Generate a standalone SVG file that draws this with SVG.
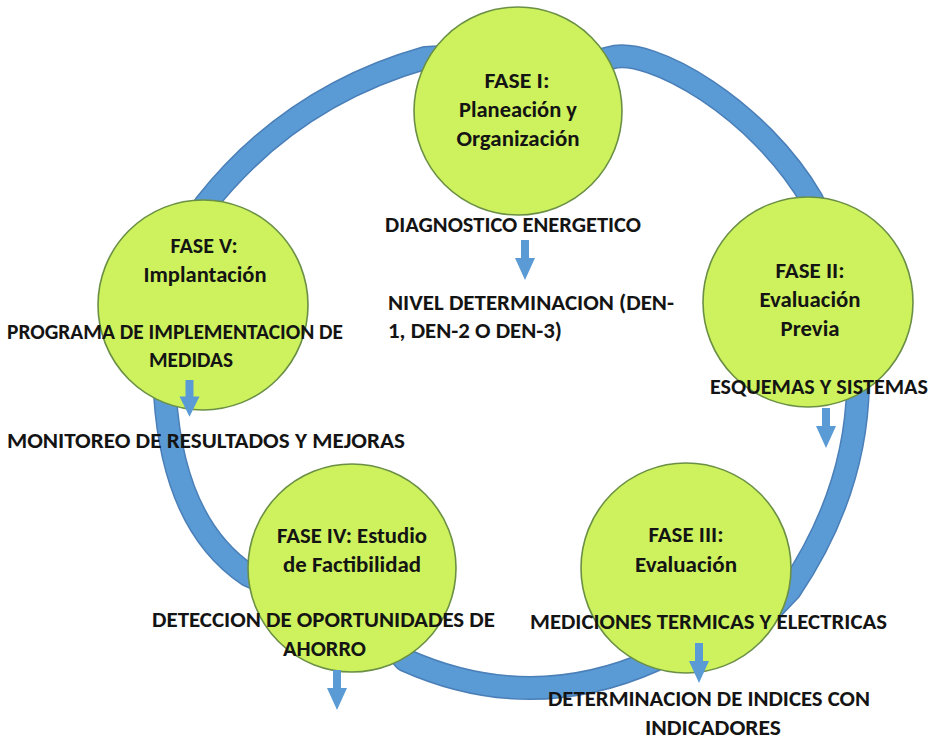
<svg xmlns="http://www.w3.org/2000/svg" width="932" height="746" viewBox="0 0 932 746">
<style>
  .band-edge{fill:none;stroke:#4a7fb8;stroke-width:24;stroke-linecap:butt;stroke-linejoin:round}
  .band{fill:none;stroke:#5b9bd5;stroke-width:21;stroke-linecap:butt;stroke-linejoin:round}
  .phase{fill:#cdf25d;stroke:#6a8f45;stroke-width:1.6}
  .t{font-family:Carlito,Calibri,Lato,"Open Sans",sans-serif;font-weight:700;font-size:22px;fill:#141414}
  .m{text-anchor:middle}
  .arrow{fill:#5b9bd5}
</style>
<defs>
  <path id="seg51" d="M 198 235 L 205 205 Q 291 96 425 58 L 460 56"/>
  <path id="seg12" d="M 570 68 L 610 58 C 650 45 760 110 812 200 L 828 235"/>
  <path id="seg23" d="M 858 340 L 858 385 Q 856 492 790 590 L 752 630"/>
  <path id="seg34" d="M 672 640 L 655 660 Q 530 716 405 660 L 388 640"/>
  <path id="seg45" d="M 163 365 L 165 395 Q 173.5 525 248 575 L 272 586"/>
  <polygon id="arrowShape" points="-4,0 4,0 4,18 10,18 0,40 -10,18 -4,18"/>
</defs>
<rect width="932" height="746" fill="#ffffff"/>
<g id="connectors">
  <use href="#seg51" class="band-edge"/><use href="#seg51" class="band"/>
  <use href="#seg12" class="band-edge"/><use href="#seg12" class="band"/>
  <use href="#seg23" class="band-edge"/><use href="#seg23" class="band"/>
  <use href="#seg34" class="band-edge"/><use href="#seg34" class="band"/>
  <use href="#seg45" class="band-edge"/><use href="#seg45" class="band"/>
</g>
<g id="phase1">
  <circle class="phase" cx="518" cy="111" r="104"/>
  <text class="t m" x="517" y="88" textLength="65" lengthAdjust="spacingAndGlyphs">FASE I:</text>
  <text class="t m" x="518" y="117" textLength="118" lengthAdjust="spacingAndGlyphs">Planeación y</text>
  <text class="t m" x="518" y="146" textLength="123" lengthAdjust="spacingAndGlyphs">Organización</text>
</g>
<g id="phase2">
  <circle class="phase" cx="808" cy="302" r="105"/>
  <text class="t m" x="810" y="278" textLength="69" lengthAdjust="spacingAndGlyphs">FASE II:</text>
  <text class="t m" x="810" y="307" textLength="101" lengthAdjust="spacingAndGlyphs">Evaluación</text>
  <text class="t m" x="810" y="336" textLength="59" lengthAdjust="spacingAndGlyphs">Previa</text>
</g>
<g id="phase3">
  <circle class="phase" cx="686" cy="568" r="105"/>
  <text class="t m" x="686" y="542" textLength="75" lengthAdjust="spacingAndGlyphs">FASE III:</text>
  <text class="t m" x="686" y="572" textLength="102" lengthAdjust="spacingAndGlyphs">Evaluación</text>
</g>
<g id="phase4">
  <circle class="phase" cx="352" cy="568" r="104"/>
  <text class="t m" x="352" y="543" textLength="150" lengthAdjust="spacingAndGlyphs">FASE IV: Estudio</text>
  <text class="t m" x="352" y="572" textLength="138" lengthAdjust="spacingAndGlyphs">de Factibilidad</text>
</g>
<g id="phase5">
  <circle class="phase" cx="203" cy="305" r="105"/>
  <text class="t m" x="204" y="253" textLength="67" lengthAdjust="spacingAndGlyphs">FASE V:</text>
  <text class="t m" x="205" y="282" textLength="123" lengthAdjust="spacingAndGlyphs">Implantación</text>
</g>
<g id="label-phase1">
  <text class="t" x="385" y="232" textLength="256" lengthAdjust="spacingAndGlyphs">DIAGNOSTICO ENERGETICO</text>
  <text class="t" x="388" y="310" textLength="286" lengthAdjust="spacingAndGlyphs">NIVEL DETERMINACION (DEN-</text>
  <text class="t" x="388" y="338" textLength="174" lengthAdjust="spacingAndGlyphs">1, DEN-2 O DEN-3)</text>
</g>
<g id="label-phase2">
  <text class="t" x="710" y="394" textLength="218" lengthAdjust="spacingAndGlyphs">ESQUEMAS Y SISTEMAS</text>
</g>
<g id="label-phase3">
  <text class="t" x="530" y="629" textLength="357" lengthAdjust="spacingAndGlyphs">MEDICIONES TERMICAS Y ELECTRICAS</text>
  <text class="t" x="548" y="706" textLength="322" lengthAdjust="spacingAndGlyphs">DETERMINACION DE INDICES CON</text>
  <text class="t m" x="713" y="735" textLength="136" lengthAdjust="spacingAndGlyphs">INDICADORES</text>
</g>
<g id="label-phase4">
  <text class="t" x="152" y="627" textLength="343" lengthAdjust="spacingAndGlyphs">DETECCION DE OPORTUNIDADES DE</text>
  <text class="t m" x="324.5" y="656" textLength="83" lengthAdjust="spacingAndGlyphs">AHORRO</text>
</g>
<g id="label-phase5">
  <text class="t" x="7" y="339" textLength="336" lengthAdjust="spacingAndGlyphs">PROGRAMA DE IMPLEMENTACION DE</text>
  <text class="t" x="149" y="367" textLength="84" lengthAdjust="spacingAndGlyphs">MEDIDAS</text>
  <text class="t" x="7" y="448" textLength="398" lengthAdjust="spacingAndGlyphs">MONITOREO DE RESULTADOS Y MEJORAS</text>
</g>
<g id="arrow-connectors">
  <use href="#arrowShape" class="arrow" transform="translate(525,240)"/>
  <use href="#arrowShape" class="arrow" transform="translate(826,408)"/>
  <use href="#arrowShape" class="arrow" transform="translate(189.5,380) scale(1,0.92)"/>
  <use href="#arrowShape" class="arrow" transform="translate(337,670)"/>
  <use href="#arrowShape" class="arrow" transform="translate(699,643)"/>
</g>
</svg>
